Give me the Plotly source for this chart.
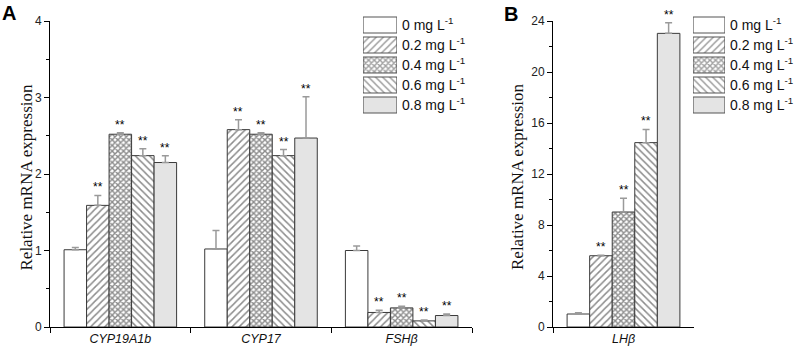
import plotly.graph_objects as go

# ---------------- data ----------------
doses = ["0 mg L<sup>-1</sup>", "0.2 mg L<sup>-1</sup>", "0.4 mg L<sup>-1</sup>",
         "0.6 mg L<sup>-1</sup>", "0.8 mg L<sup>-1</sup>"]
genes_a = ["<i>CYP19A1b</i>", "<i>CYP17</i>", "<i>FSHβ</i>"]
genes_b = ["<i>LHβ</i>"]

# values per dose, across genes_a
vals_a = [
    [1.01, 1.02, 1.00],
    [1.59, 2.58, 0.19],
    [2.52, 2.52, 0.25],
    [2.24, 2.24, 0.08],
    [2.15, 2.47, 0.15],
]
errs_a = [
    [0.03, 0.24, 0.06],
    [0.13, 0.13, 0.03],
    [0.02, 0.02, 0.02],
    [0.09, 0.08, 0.01],
    [0.09, 0.54, 0.02],
]
sig_a = [
    ["", "", ""],
    ["**", "**", "**"],
    ["**", "**", "**"],
    ["**", "**", "**"],
    ["**", "**", "**"],
]

vals_b = [[1.02], [5.59], [9.02], [14.46], [23.03]]
errs_b = [[0.10], [0.04], [1.07], [1.04], [0.84]]
sig_b = [[""], ["**"], ["**"], ["**"], ["**"]]

# ---------------- styles ----------------
fill_colors = ["white", "white", "white", "white", "#e4e4e4"]
shapes = ["", "/", "x", "\\", ""]
sizes = [5, 5, 4, 5, 5]
solid = [0.3, 0.3, 0.6, 0.3, 0.3]
edge = "#3a3a3a"
err_col = "#9a9a9a"
sans = "Arial, Liberation Sans, sans-serif"
serif = "Times New Roman, Liberation Serif, serif"

W, H = 796, 349


def px_x(p):
    return p / W


def px_y(p):
    return 1 - p / H


fig = go.Figure()

n = len(doses)
group_w = 0.8
slot = group_w / n


def add_panel(vals, errs, sigs, cats, xa, ya):
    for j in range(n):
        fig.add_trace(go.Bar(
            x=cats, y=vals[j], xaxis=xa, yaxis=ya, name=doses[j],
            marker=dict(color=fill_colors[j], line=dict(color=edge, width=1),
                        pattern=dict(shape=shapes[j], size=sizes[j], solidity=solid[j],
                                     fgcolor="#1a1a1a", bgcolor=fill_colors[j], fillmode="overlay")),
            error_y=dict(type="data", symmetric=False, array=errs[j],
                         arrayminus=[0] * len(cats), color=err_col, thickness=1.5, width=3.5),
            showlegend=False, hoverinfo="skip",
        ))
        for i, c in enumerate(cats):
            if sigs[j][i]:
                fig.add_annotation(
                    x=i + (j - (n - 1) / 2) * slot, y=vals[j][i] + errs[j][i],
                    xref=xa, yref=ya, text=sigs[j][i], showarrow=False,
                    yanchor="bottom", yshift=-1,
                    font=dict(family=sans, size=12, color="black"))


add_panel(vals_a, errs_a, sig_a, genes_a, "x", "y")
add_panel(vals_b, errs_b, sig_b, genes_b, "x2", "y2")

# legend swatches (one per panel)
for xa, ya in (("x3", "y3"), ("x4", "y4")):
    fig.add_trace(go.Bar(
        y=doses, x=[1] * n, orientation="h", xaxis=xa, yaxis=ya,
        marker=dict(color=fill_colors, line=dict(color="#555", width=1.2),
                    pattern=dict(shape=shapes, size=sizes, solidity=solid,
                                 fgcolor="#444", bgcolor=fill_colors, fillmode="overlay")),
        showlegend=False, hoverinfo="skip",
    ))

ydom = [px_y(327), px_y(21)]
axis_common = dict(showline=True, linecolor="black", linewidth=1, showgrid=False,
                   zeroline=False, ticks="outside", tickcolor="black", ticklen=5,
                   automargin=False)
ytickfont = dict(family=sans, size=12, color="#222")
xtickfont = dict(family=sans, size=12.5, color="#111")
legfont = dict(family=sans, size=14, color="#111")

fig.update_layout(
    width=W, height=H, margin=dict(l=0, r=0, t=0, b=0),
    paper_bgcolor="white", plot_bgcolor="white",
    barmode="group", bargap=1 - group_w, bargroupgap=0,
    xaxis=dict(domain=[px_x(50), px_x(472)], type="category", tickson="boundaries",
               range=[-0.5, 2.5], anchor="y", tickfont=xtickfont, **axis_common),
    yaxis=dict(domain=ydom, range=[0, 4], dtick=1, anchor="x", tickfont=ytickfont,
               minor=dict(ticks="outside", ticklen=3, dtick=0.5, tickcolor="black"),
               **axis_common),
    xaxis2=dict(domain=[px_x(553), px_x(694)], type="category", tickson="boundaries",
                range=[-0.5, 0.5], anchor="y2", tickfont=xtickfont, **axis_common),
    yaxis2=dict(domain=ydom, range=[0, 24], dtick=4, anchor="x2", tickfont=ytickfont,
                minor=dict(ticks="outside", ticklen=3, dtick=2, tickcolor="black"),
                **axis_common),
    xaxis3=dict(domain=[px_x(363), px_x(397)], range=[0, 1], visible=False, anchor="y3"),
    yaxis3=dict(domain=[px_y(115), px_y(15)], type="category", range=[4.5, -0.5],
                side="right", anchor="x3", showline=False, showgrid=False, ticks="",
                automargin=False, ticklabelstandoff=4, tickfont=legfont),
    xaxis4=dict(domain=[px_x(693), px_x(725)], range=[0, 1], visible=False, anchor="y4"),
    yaxis4=dict(domain=[px_y(115), px_y(15)], type="category", range=[4.5, -0.5],
                side="right", anchor="x4", showline=False, showgrid=False, ticks="",
                automargin=False, ticklabelstandoff=4, tickfont=legfont),
)

# axis titles and panel labels
for xc in (14, 517):
    fig.add_annotation(x=px_x(xc), y=px_y(177), xref="paper", yref="paper",
                       text="Relative mRNA expression", textangle=-90, showarrow=False,
                       font=dict(family=serif, size=17, color="#111"))
fig.add_annotation(x=px_x(0), y=px_y(0), xref="paper", yref="paper", text="<b>A</b>",
                   xanchor="left", yanchor="top", showarrow=False,
                   font=dict(family=sans, size=20, color="black"))
fig.add_annotation(x=px_x(502), y=px_y(1), xref="paper", yref="paper", text="<b>B</b>",
                   xanchor="left", yanchor="top", showarrow=False,
                   font=dict(family=sans, size=20, color="black"))

fig.write_html("out.html", config={"displayModeBar": False},
               post_script="document.body.style.margin='0';document.body.style.overflow='hidden';")
